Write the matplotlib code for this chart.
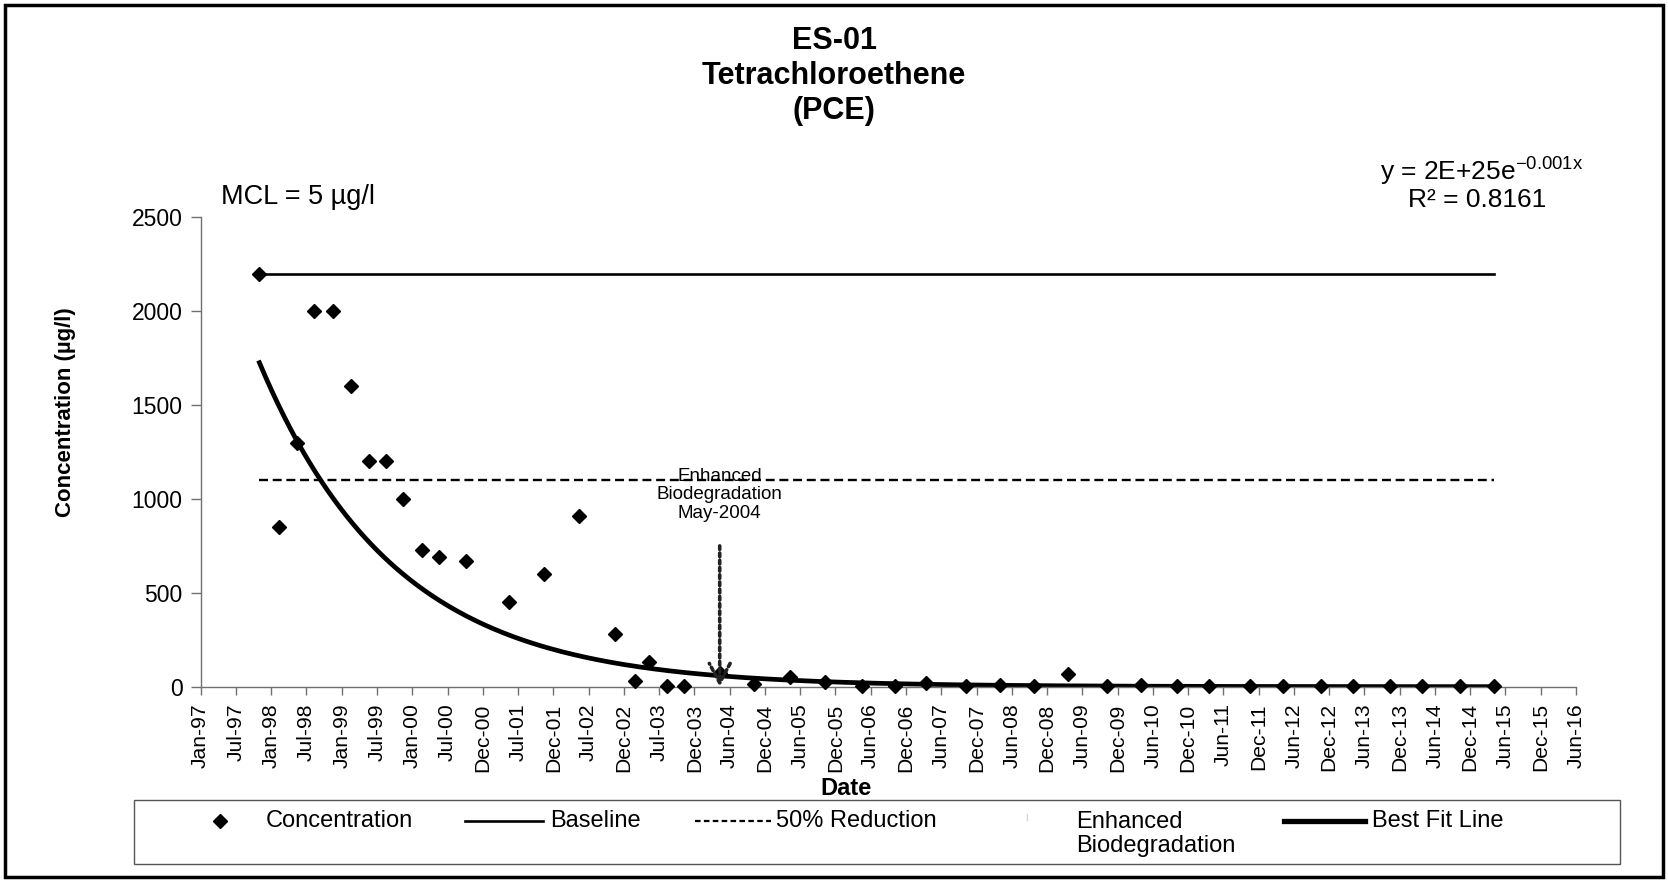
import numpy as np
import pandas as pd
import matplotlib
matplotlib.use('Agg')
import matplotlib.pyplot as plt
import matplotlib.dates as mdates
from matplotlib.lines import Line2D
from matplotlib.patches import Rectangle

plt.rcParams['font.family'] = ['Liberation Sans', 'DejaVu Sans']
plt.rcParams['mathtext.default'] = 'regular'

# PCE sampling results, ES-01
sample_dates = [
    '1997-11-01', '1998-02-10', '1998-05-15', '1998-08-10', '1998-11-15',
    '1999-02-20', '1999-05-20', '1999-08-20', '1999-11-15', '2000-02-20',
    '2000-05-20', '2000-10-05', '2001-05-15', '2001-11-15', '2002-05-15',
    '2002-11-15', '2003-02-25', '2003-05-10', '2003-08-10', '2003-11-05',
    '2004-05-10', '2004-11-01', '2005-05-10', '2005-11-05', '2006-05-15',
    '2006-11-05', '2007-04-15', '2007-11-05', '2008-05-01', '2008-10-20',
    '2009-04-15', '2009-11-05', '2010-05-01', '2010-10-30', '2011-04-15',
    '2011-11-15', '2012-05-05', '2012-11-15', '2013-04-30', '2013-11-10',
    '2014-04-25', '2014-11-05', '2015-04-28',
]
concentration = [
    2200, 850, 1300, 2000, 2000,
    1600, 1200, 1200, 1000, 730,
    690, 670, 450, 600, 910,
    280, 30, 130, 2, 2,
    75, 15, 50, 25, 3,
    3, 20, 2, 10, 2,
    70, 2, 10, 2, 3,
    2, 2, 2, 3, 2,
    2, 2, 2,
]

baseline = 2200
reduction_50 = 1100
mcl = 5
biodeg_date = '2004-05-10'
biodeg_top = 750

# exponential trendline on Excel serial dates
fit_a = 2e25
fit_b = -0.0014217
r_squared = 0.8161

axis_start = '1997-01-01'
tick_step = 182.5
tick_labels = [
    'Jan-97', 'Jul-97', 'Jan-98', 'Jul-98', 'Jan-99', 'Jul-99', 'Jan-00',
    'Jul-00', 'Dec-00', 'Jul-01', 'Dec-01', 'Jul-02', 'Dec-02', 'Jul-03',
    'Dec-03', 'Jun-04', 'Dec-04', 'Jun-05', 'Dec-05', 'Jun-06', 'Dec-06',
    'Jun-07', 'Dec-07', 'Jun-08', 'Dec-08', 'Jun-09', 'Dec-09', 'Jun-10',
    'Dec-10', 'Jun-11', 'Dec-11', 'Jun-12', 'Dec-12', 'Jun-13', 'Dec-13',
    'Jun-14', 'Dec-14', 'Jun-15', 'Dec-15', 'Jun-16',
]
y_ticks = [0, 500, 1000, 1500, 2000, 2500]

W, H = 1668, 880
fig = plt.figure(figsize=(W / 100, H / 100), dpi=100)
ax = fig.add_axes([200.7 / W, 1 - 686.7 / H, (1576 - 200.7) / W, (686.7 - 217.3) / H])

x = mdates.date2num(pd.to_datetime(sample_dates))
x0 = x[0]
x1 = x[-1]

base_style = dict(color='black', lw=1.9)
half_style = dict(color='black', lw=1.7, dashes=(3.8, 2.0))
fit_style = dict(color='black', lw=3.4)

ax.plot([x0, x1], [baseline, baseline], **base_style)
ax.plot([x0, x1], [reduction_50, reduction_50], **half_style)

serial_offset = -mdates.date2num(pd.Timestamp('1899-12-30'))
xfit = np.linspace(x0, x1, 400)
yfit = fit_a * np.exp(fit_b * (xfit + serial_offset))
ax.plot(xfit, yfit, **fit_style)

ax.plot(x, concentration, 'D', color='black', ms=6.8, ls='none', zorder=4, clip_on=False)

# enhanced biodegradation start
bx = mdates.date2num(pd.Timestamp(biodeg_date))
ax.annotate('', xy=(bx, 0), xytext=(bx, biodeg_top),
            arrowprops=dict(arrowstyle='->,head_length=1.4,head_width=0.75',
                            lw=2.6, ls=(0, (1, 1)), color='#222222',
                            shrinkA=0, shrinkB=0), zorder=5)
ax.text(bx - 2, 1021, 'Enhanced\nBiodegradation\nMay-2004', ha='center', va='center',
        fontsize=13.5, linespacing=1.1)

start = mdates.date2num(pd.Timestamp(axis_start))
ticks = start + tick_step * np.arange(len(tick_labels))
ax.set_xlim(ticks[0], ticks[-1])
ax.set_xticks(ticks)
ax.set_xticklabels(tick_labels, rotation=90)
ax.set_ylim(0, 2500)
ax.set_yticks(y_ticks)

for side in ('top', 'right'):
    ax.spines[side].set_visible(False)
for side in ('left', 'bottom'):
    ax.spines[side].set_color('#707070')
    ax.spines[side].set_linewidth(1.0)
ax.tick_params(axis='x', direction='out', length=6, width=1, color='#707070',
               labelsize=15.2, pad=6)
ax.tick_params(axis='y', direction='out', length=7, width=1, color='#707070',
               labelsize=16.5, pad=6)

# titles and labels
fig.text(0.5, 1 - 76 / H, 'ES-01\nTetrachloroethene\n(PCE)', ha='center', va='center',
         fontsize=22, weight='bold', linespacing=1.2)
fig.text(221 / W, 1 - 197 / H, f'MCL = {mcl} µg/l', va='center', fontsize=19.5)
fig.text(1482 / W, 1 - 172 / H, f'y = {fit_a:.0E}e$^{{{fit_b:.3f}x}}$',
         ha='center', va='center', fontsize=19)
fig.text(1477 / W, 1 - 200 / H, f'R² = {r_squared}', ha='center', va='center', fontsize=19)
fig.text(65 / W, 1 - 412 / H, 'Concentration (µg/l)', rotation=90, ha='center', va='center',
         fontsize=16, weight='bold')
fig.text(846 / W, 1 - 788 / H, 'Date', ha='center', va='center', fontsize=17, weight='bold')

# legend box along the bottom
leg_y = 1 - 821 / H
leg_fs = 17


def fig_line(xa, xb, **style):
    fig.add_artist(Line2D([xa / W, xb / W], [leg_y, leg_y], transform=fig.transFigure, **style))


fig.add_artist(Line2D([220 / W], [leg_y], marker='D', ms=6.8, color='black', ls='none',
                      transform=fig.transFigure))
fig.text(266 / W, leg_y, 'Concentration', va='center', fontsize=leg_fs)
fig_line(465, 543, **base_style)
fig.text(550 / W, leg_y, 'Baseline', va='center', fontsize=leg_fs)
fig_line(695, 771, color='black', lw=1.6, dashes=(2.5, 1.5))
fig.text(776 / W, leg_y, '50% Reduction', va='center', fontsize=leg_fs)
fig.add_artist(Line2D([1027 / W, 1027 / W], [1 - 820 / H, 1 - 814 / H], color='#d8d8d8', lw=1,
                      transform=fig.transFigure))
fig.text(1076 / W, 1 - 834 / H, 'Enhanced\nBiodegradation', va='center', fontsize=leg_fs,
         linespacing=1.1)
fig_line(1284, 1365, color='black', lw=3.8)
fig.text(1372 / W, leg_y, 'Best Fit Line', va='center', fontsize=leg_fs)

fig.add_artist(Rectangle((134 / W, 1 - 864 / H), (1620 - 134) / W, 64 / H,
                         transform=fig.transFigure, fill=False, ec='#555555', lw=1))
fig.add_artist(Rectangle((5 / W, 1 - 877 / H), (1663 - 5) / W, (877 - 5) / H,
                         transform=fig.transFigure, fill=False, ec='black', lw=2.5))

fig.savefig('out.png', dpi=100)
